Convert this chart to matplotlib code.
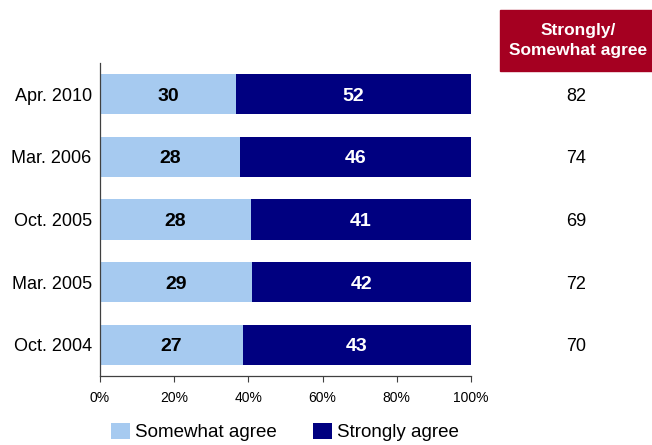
import matplotlib.pyplot as plt
from matplotlib.patches import Rectangle
from matplotlib.transforms import blended_transform_factory
import numpy as np

# survey waves, top to bottom
waves = ["Apr. 2010", "Mar. 2006", "Oct. 2005", "Mar. 2005", "Oct. 2004"]
somewhat = [30, 28, 28, 29, 27]
strongly = [52, 46, 41, 42, 43]
total_agree = [82, 74, 69, 72, 70]

LIGHT = "#A6CAF0"
DARK = "#000080"
HEADER_RED = "#A50021"

plt.rcParams["font.family"] = ["Liberation Sans", "DejaVu Sans"]

somewhat = np.array(somewhat, dtype=float)
strongly = np.array(strongly, dtype=float)
share_sw = somewhat / (somewhat + strongly) * 100
share_st = strongly / (somewhat + strongly) * 100

fig = plt.figure(figsize=(6.52, 4.45), dpi=100)
ax = fig.add_axes([100 / 652, 1 - 376 / 445, 371 / 652, 313 / 445])

y = np.arange(len(waves))
h = 0.64
ax.barh(y, share_sw, height=h, color=LIGHT, label="Somewhat agree")
ax.barh(y, share_st, left=share_sw, height=h, color=DARK, label="Strongly agree")

col_tf = blended_transform_factory(fig.transFigure, ax.transData)
for i in range(len(waves)):
    ax.text(share_sw[i] / 2, y[i], f"{somewhat[i]:.0f}", ha="center", va="center_baseline",
            fontsize=14, fontweight="bold", color="black")
    ax.text(share_sw[i] + share_st[i] / 2, y[i], f"{strongly[i]:.0f}", ha="center", va="center_baseline",
            fontsize=14, fontweight="bold", color="white")
    ax.text(576 / 652, y[i], str(total_agree[i]), transform=col_tf,
            ha="center", va="center_baseline", fontsize=13)

ax.set_xlim(0, 100)
ax.set_ylim(len(waves) - 0.5, -0.5)
ax.set_yticks(y)
ax.set_yticklabels(waves, fontsize=13, va="center_baseline")
ax.tick_params(axis="y", length=0, pad=6)
ax.set_xticks(np.arange(0, 101, 20))
ax.set_xticklabels([f"{v}%" for v in range(0, 101, 20)], fontsize=10)
ax.tick_params(axis="x", direction="out", length=4, color="#404040", pad=7)
for side in ["top", "right"]:
    ax.spines[side].set_visible(False)
for side in ["left", "bottom"]:
    ax.spines[side].set_color("#404040")
    ax.spines[side].set_linewidth(0.9)

# header box over the total column
fig.patches.append(Rectangle((500 / 652, 1 - 71 / 445), 152 / 652, 61 / 445,
                             transform=fig.transFigure, color=HEADER_RED, zorder=0))
fig.text(578 / 652, 1 - 40.5 / 445, "Strongly/\nSomewhat agree", ha="center", va="center",
         color="white", fontsize=12.5, fontweight="bold", linespacing=1.35)

fig.legend(loc="center", bbox_to_anchor=(285 / 652, 1 - 432 / 445), ncol=2, frameon=False,
           prop={"size": 13.5}, handlelength=1.0, handleheight=1.0,
           handletextpad=0.3, columnspacing=1.9)

fig.savefig("out.png", dpi=100)
